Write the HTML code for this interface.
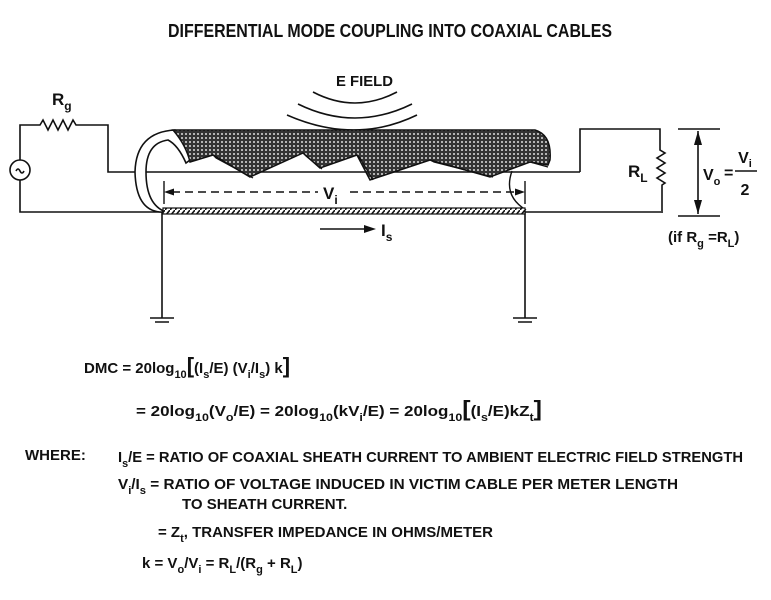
<!DOCTYPE html>
<html><head><style>
body{margin:0;background:#fff;}
svg{display:block}
text{font-family:"Liberation Sans",sans-serif;font-weight:bold;fill:#111;}
</style></head><body>
<svg width="771" height="600" viewBox="0 0 771 600" xmlns="http://www.w3.org/2000/svg">
<defs>
<pattern id="mesh" width="4" height="4" patternUnits="userSpaceOnUse">
<rect width="4" height="4" fill="#333"/><circle cx="2" cy="2" r="1" fill="#ddd"/>
</pattern>
<pattern id="hatch" width="5" height="6" patternUnits="userSpaceOnUse">
<rect width="5" height="6" fill="#fff"/><line x1="0" y1="6" x2="5" y2="0" stroke="#111" stroke-width="1.6"/>
</pattern>
</defs>
<text x="168" y="37" font-size="18" textLength="444" lengthAdjust="spacingAndGlyphs">DIFFERENTIAL MODE COUPLING INTO COAXIAL CABLES</text>
<g fill="none" stroke="#111" stroke-width="1.6">
<circle cx="20" cy="170" r="10"/>
<path d="M16 171 q2 -4 4 0 q2 4 4 0"/>
<path d="M20 160 V125 H40 l3 -5 l5 10 l5 -10 l5 10 l5 -10 l5 10 l5 -10 l3 5 H108 V172 H580"/>
<path d="M20 180 V212 H661"/>
<path d="M580 172 V129 H660 V150 l5 3 l-8 5 l8 5 l-8 5 l8 5 l-8 5 l8 5 l-3 2 V213"/>
<path d="M678 129 H720 M678 216 H720 M698 131 V214"/>
<path d="M313 92 q42 22 84 0 M298 104 q57 28 114 0 M287 115 q68 30 130 0"/>
<path d="M162 212 V318 M525 212 V318 M150 318 H174 M155 322 H169 M513 318 H537 M518 322 H532"/>
</g>
<path d="M698 131 l-4 14 h8 Z M698 214 l-4 -14 h8 Z" fill="#111"/>
<path d="M175 130 Q136 132 135 172 Q136 210 160 212 L166 212 Q146 205 146 172 Q146 143 168 140 Q178 145 186 163 L190 160 Q185 140 175 130 Z" fill="#fff" stroke="#111" stroke-width="1.6"/>
<path d="M173 130 L535 130 Q552 135 550 160 L548 165 L530 162 L490 177 L430 160 L370 180 L357 155 L320 168 L303 153 L250 177 L213 155 L190 162 Q186 145 173 130 Z" fill="url(#mesh)" stroke="#111" stroke-width="1.5"/>
<path d="M213 155 L216 158 L253 178 M303 153 L306 156 L322 169 M357 155 L360 158 L373 180 M430 160 L434 162 L493 177 M530 162 L548 167" fill="none" stroke="#111" stroke-width="1.2"/>
<path d="M512 171 Q503 196 526 210" fill="none" stroke="#111" stroke-width="1.4"/>
<rect x="163" y="208" width="362" height="6" fill="url(#hatch)" stroke="#111" stroke-width="1.2"/>
<line x1="172" y1="192" x2="318" y2="192" stroke="#111" stroke-width="1.4" stroke-dasharray="8 5"/>
<line x1="350" y1="192" x2="516" y2="192" stroke="#111" stroke-width="1.4" stroke-dasharray="8 5"/>
<path d="M164 192 l10 -3.5 v7 Z M525 192 l-10 -3.5 v7 Z" fill="#111"/>
<line x1="164" y1="181" x2="164" y2="204" stroke="#111" stroke-width="1.4"/>
<line x1="525" y1="181" x2="525" y2="204" stroke="#111" stroke-width="1.4"/>
<text x="323" y="199" font-size="17">V<tspan font-size="12" dy="5">i</tspan></text>
<line x1="320" y1="229" x2="365" y2="229" stroke="#111" stroke-width="1.6"/>
<path d="M376 229 l-12 -4 v8 Z" fill="#111"/>
<text x="381" y="236" font-size="17">I<tspan font-size="12" dy="5">s</tspan></text>
<text x="336" y="86" font-size="15" textLength="57" lengthAdjust="spacingAndGlyphs">E  FIELD</text>
<text x="52" y="105" font-size="17">R<tspan font-size="12" dy="5">g</tspan></text>
<text x="628" y="177" font-size="17">R<tspan font-size="12" dy="5">L</tspan></text>
<text x="703" y="180" font-size="16">V<tspan font-size="11" dy="5">o</tspan></text>
<text x="724" y="178" font-size="16">=</text>
<text x="745" y="163" font-size="16" text-anchor="middle">V<tspan font-size="11" dy="4">i</tspan></text>
<line x1="735" y1="171" x2="757" y2="171" stroke="#111" stroke-width="1.5"/>
<text x="745" y="195" font-size="16" text-anchor="middle">2</text>
<text x="668" y="242" font-size="15">(if R<tspan font-size="11" dy="5">g</tspan><tspan dy="-5"> =R</tspan><tspan font-size="11" dy="5">L</tspan><tspan dy="-5">)</tspan></text>
<g font-size="15">
<text x="84" y="373">DMC = 20log<tspan font-size="11" dy="5">10</tspan><tspan dy="-5" font-size="22">[</tspan><tspan>(I</tspan><tspan font-size="11" dy="5">s</tspan><tspan dy="-5">/E) (V</tspan><tspan font-size="11" dy="5">i</tspan><tspan dy="-5">/I</tspan><tspan font-size="11" dy="5">s</tspan><tspan dy="-5">) k</tspan><tspan font-size="22">]</tspan></text>
<text x="136" y="416" textLength="406" lengthAdjust="spacingAndGlyphs">= 20log<tspan font-size="11" dy="5">10</tspan><tspan dy="-5">(V</tspan><tspan font-size="11" dy="5">o</tspan><tspan dy="-5">/E) = 20log</tspan><tspan font-size="11" dy="5">10</tspan><tspan dy="-5">(kV</tspan><tspan font-size="11" dy="5">i</tspan><tspan dy="-5">/E) = 20log</tspan><tspan font-size="11" dy="5">10</tspan><tspan dy="-5" font-size="22">[</tspan><tspan>(I</tspan><tspan font-size="11" dy="5">s</tspan><tspan dy="-5">/E)kZ</tspan><tspan font-size="11" dy="5">t</tspan><tspan dy="-5" font-size="22">]</tspan></text>
<text x="25" y="460">WHERE:</text>
<text x="118" y="462" textLength="625" lengthAdjust="spacingAndGlyphs">I<tspan font-size="11" dy="5">s</tspan><tspan dy="-5">/E = RATIO OF COAXIAL SHEATH CURRENT TO AMBIENT ELECTRIC FIELD STRENGTH</tspan></text>
<text x="118" y="489" textLength="560" lengthAdjust="spacingAndGlyphs">V<tspan font-size="11" dy="5">i</tspan><tspan dy="-5">/I</tspan><tspan font-size="11" dy="5">s</tspan><tspan dy="-5"> = RATIO OF VOLTAGE INDUCED IN VICTIM CABLE PER METER LENGTH</tspan></text>
<text x="182" y="509">TO SHEATH CURRENT.</text>
<text x="158" y="537">= Z<tspan font-size="11" dy="5">t</tspan><tspan dy="-5">, TRANSFER IMPEDANCE IN OHMS/METER</tspan></text>
<text x="142" y="568">k = V<tspan font-size="11" dy="5">o</tspan><tspan dy="-5">/V</tspan><tspan font-size="11" dy="5">i</tspan><tspan dy="-5"> = R</tspan><tspan font-size="11" dy="5">L</tspan><tspan dy="-5">/(R</tspan><tspan font-size="11" dy="5">g</tspan><tspan dy="-5"> + R</tspan><tspan font-size="11" dy="5">L</tspan><tspan dy="-5">)</tspan></text>
</g>
</svg>
</body></html>
